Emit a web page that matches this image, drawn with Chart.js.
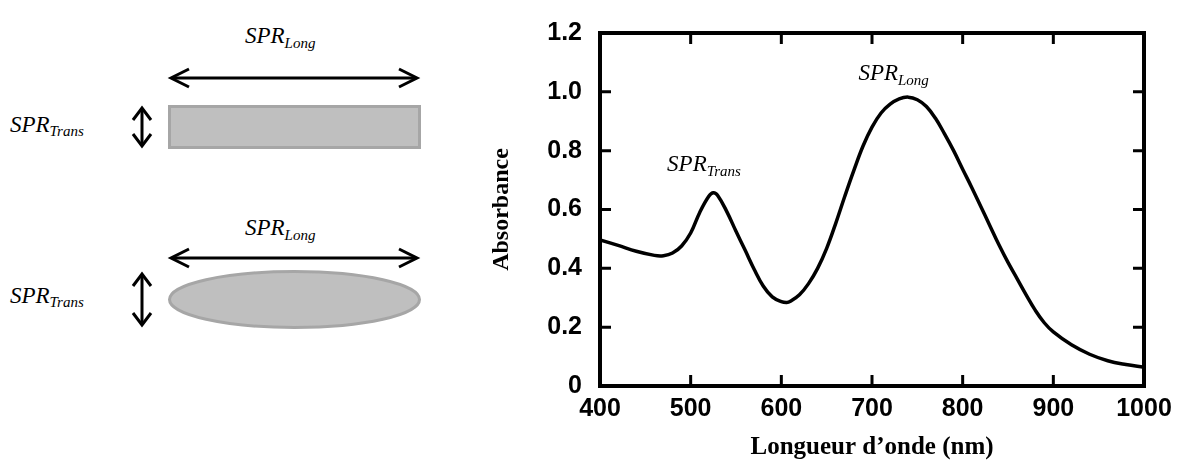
<!DOCTYPE html>
<html>
<head>
<meta charset="utf-8">
<script src="https://cdn.jsdelivr.net/npm/chart.js@4.4.1/dist/chart.umd.min.js"></script>
<style>
  html, body { margin: 0; padding: 0; background: #fff; }
  body { width: 1188px; height: 470px; position: relative; overflow: hidden; }
  #shapes { position: absolute; left: 0; top: 0; }
  #wrap { position: absolute; left: 460px; top: 0; width: 728px; height: 470px; }
  .lbl { font-family: 'Liberation Serif', 'Times New Roman', serif; font-style: italic; fill: #000; }
</style>
</head>
<body>
<svg id="shapes" width="460" height="470">
  <!-- rod -->
  <text class="lbl" x="245" y="43" font-size="23">SPR<tspan font-size="15" dy="5">Long</tspan></text>
  <line x1="172" y1="78" x2="416" y2="78" stroke="#000" stroke-width="3"/>
  <polyline points="189,69 171,78 189,87" fill="none" stroke="#000" stroke-width="3"/>
  <polyline points="399,69 417,78 399,87" fill="none" stroke="#000" stroke-width="3"/>
  <text class="lbl" x="10" y="132" font-size="23">SPR<tspan font-size="15" dy="4">Trans</tspan></text>
  <line x1="142" y1="108" x2="142" y2="146" stroke="#000" stroke-width="3"/>
  <polyline points="133,120 142,108 151,120" fill="none" stroke="#000" stroke-width="3"/>
  <polyline points="133,134 142,146 151,134" fill="none" stroke="#000" stroke-width="3"/>
  <rect x="169.5" y="106.5" width="250" height="41" fill="#bfbfbf" stroke="#a6a6a6" stroke-width="3"/>
  <!-- ellipse -->
  <text class="lbl" x="245" y="235" font-size="23">SPR<tspan font-size="15" dy="5">Long</tspan></text>
  <line x1="172" y1="258" x2="416" y2="258" stroke="#000" stroke-width="3"/>
  <polyline points="189,249 171,258 189,267" fill="none" stroke="#000" stroke-width="3"/>
  <polyline points="399,249 417,258 399,267" fill="none" stroke="#000" stroke-width="3"/>
  <text class="lbl" x="10" y="303" font-size="23">SPR<tspan font-size="15" dy="4">Trans</tspan></text>
  <line x1="142" y1="274" x2="142" y2="325" stroke="#000" stroke-width="3"/>
  <polyline points="133,286 142,274 151,286" fill="none" stroke="#000" stroke-width="3"/>
  <polyline points="133,313 142,325 151,313" fill="none" stroke="#000" stroke-width="3"/>
  <ellipse cx="294.5" cy="299.5" rx="125" ry="28" fill="#bfbfbf" stroke="#a6a6a6" stroke-width="3"/>
</svg>
<div id="wrap"><canvas id="chart"></canvas></div>
<script>
// absorbance spectrum
const wavelength = [400, 420, 440, 460, 470, 480, 490, 500, 510, 520, 525, 530, 540, 550, 560, 570, 580, 590, 600, 606, 610, 620, 630, 640, 650, 660, 670, 680, 690, 700, 710, 720, 730, 740, 750, 760, 770, 780, 790, 800, 810, 820, 830, 840, 850, 860, 870, 880, 890, 900, 920, 940, 960, 980, 1000];
const absorbance = [0.497, 0.478, 0.458, 0.444, 0.443, 0.452, 0.476, 0.52, 0.59, 0.645, 0.657, 0.647, 0.592, 0.526, 0.462, 0.397, 0.34, 0.303, 0.287, 0.284, 0.288, 0.31, 0.348, 0.40, 0.468, 0.553, 0.645, 0.733, 0.815, 0.88, 0.928, 0.958, 0.976, 0.982, 0.973, 0.95, 0.91, 0.857, 0.80, 0.737, 0.675, 0.61, 0.545, 0.48, 0.42, 0.365, 0.31, 0.258, 0.215, 0.184, 0.14, 0.108, 0.086, 0.073, 0.064];

const peakNames = ['Trans', 'Long'];
const peakLabelX = [474, 685];
const peakLabelY = [0.73, 1.04];

const serif = "'Liberation Serif', 'Times New Roman', serif";
const sans = "'Liberation Sans', Arial, sans-serif";

// frame + inward ticks on all four sides, and the peak labels
const framePlugin = {
    id: 'frame',
    afterDraw(chart) {
        const ctx = chart.ctx;
        const a = chart.chartArea;
        const xs = chart.scales.x, ys = chart.scales.y;
        const len = 11;
        ctx.save();
        ctx.strokeStyle = '#000';
        ctx.lineWidth = 3;
        ctx.beginPath();
        xs.ticks.forEach(t => {
            const px = xs.getPixelForValue(t.value);
            ctx.moveTo(px, a.bottom); ctx.lineTo(px, a.bottom - len);
            ctx.moveTo(px, a.top); ctx.lineTo(px, a.top + len);
        });
        ys.ticks.forEach(t => {
            const py = ys.getPixelForValue(t.value);
            ctx.moveTo(a.left, py); ctx.lineTo(a.left + len, py);
            ctx.moveTo(a.right, py); ctx.lineTo(a.right - len, py);
        });
        ctx.stroke();
        ctx.lineWidth = 4;
        ctx.strokeRect(a.left, a.top, a.right - a.left, a.bottom - a.top);

        ctx.fillStyle = '#000';
        ctx.textBaseline = 'alphabetic';
        peakNames.forEach((name, i) => {
            const px = xs.getPixelForValue(peakLabelX[i]);
            const py = ys.getPixelForValue(peakLabelY[i]);
            ctx.font = 'italic 23px ' + serif;
            ctx.fillText('SPR', px, py);
            const w = ctx.measureText('SPR').width;
            ctx.font = 'italic 15px ' + serif;
            ctx.fillText(name, px + w, py + 5);
        });
        ctx.restore();
    }
};

new Chart(document.getElementById('chart'), {
    type: 'line',
    data: {
        datasets: [{
            data: wavelength.map((w, i) => ({ x: w, y: absorbance[i] })),
            borderColor: '#000',
            borderWidth: 3.5,
            pointRadius: 0,
            tension: 0.4,
            fill: false
        }]
    },
    options: {
        responsive: true,
        maintainAspectRatio: false,
        animation: false,
        layout: { padding: { top: 16, right: 44, bottom: 0, left: 0 } },
        plugins: { legend: { display: false }, tooltip: { enabled: false } },
        scales: {
            x: {
                type: 'linear',
                min: 400,
                max: 1000,
                grid: { display: false, drawTicks: false },
                border: { display: false },
                afterFit(scale) { scale.height = 84; },
                ticks: {
                    stepSize: 100,
                    autoSkip: false,
                    maxRotation: 0,
                    padding: 8,
                    color: '#000',
                    font: { family: sans, size: 25, weight: 'bold' },
                    callback: v => String(v)
                },
                title: {
                    display: true,
                    text: 'Longueur d’onde (nm)',
                    color: '#000',
                    padding: { top: 0, bottom: 7 },
                    font: { family: serif, size: 25, weight: 'bold' }
                }
            },
            y: {
                min: 0,
                max: 1.2,
                grid: { display: false, drawTicks: false },
                border: { display: false },
                afterFit(scale) { scale.width = 140; },
                ticks: {
                    stepSize: 0.2,
                    padding: 18,
                    color: '#000',
                    font: { family: sans, size: 25, weight: 'bold' },
                    callback: v => v === 0 ? '0' : v.toFixed(1)
                },
                title: {
                    display: true,
                    text: 'Absorbance',
                    color: '#000',
                    padding: { top: 27, bottom: 0 },
                    font: { family: serif, size: 24, weight: 'bold' }
                }
            }
        }
    },
    plugins: [framePlugin]
});
</script>
</body>
</html>
